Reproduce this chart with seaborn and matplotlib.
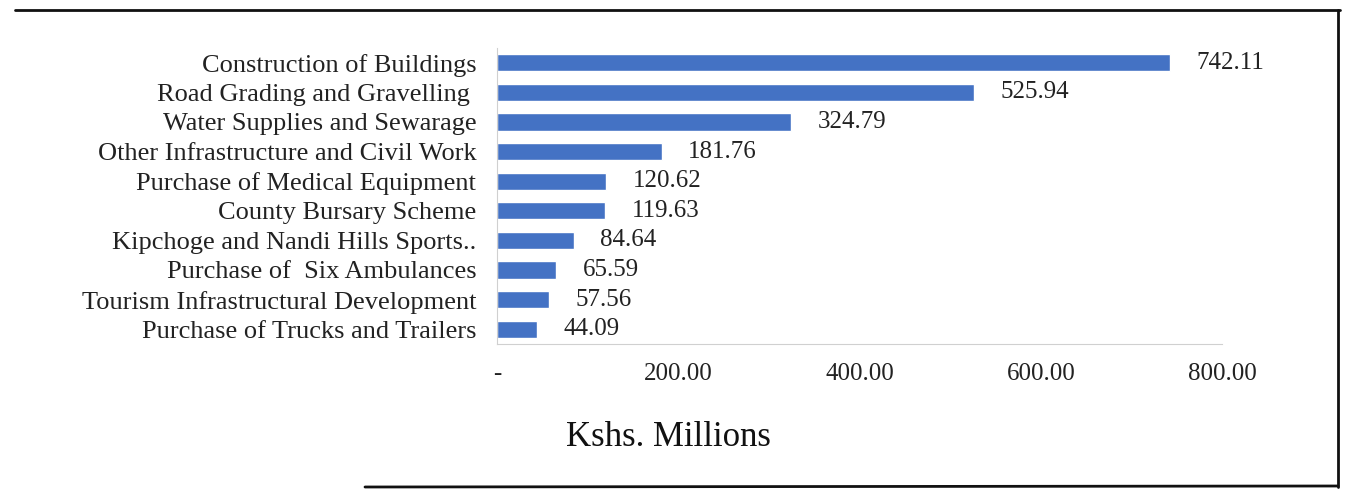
"""Top ten county projects by allocation (Kshs. Millions) - horizontal bar."""
import matplotlib
matplotlib.use("Agg")
import matplotlib.pyplot as plt
from matplotlib.lines import Line2D
import pandas as pd
import seaborn as sns

projects = [
    "Construction of Buildings",
    "Road Grading and Gravelling ",
    "Water Supplies and Sewarage",
    "Other Infrastructure and Civil Work",
    "Purchase of Medical Equipment",
    "County Bursary Scheme",
    "Kipchoge and Nandi Hills Sports..",
    "Purchase of  Six Ambulances",
    "Tourism Infrastructural Development",
    "Purchase of Trucks and Trailers",
]
amounts = [742.11, 525.94, 324.79, 181.76, 120.62, 119.63, 84.64, 65.59, 57.56, 44.09]
x_ticks = [0, 200, 400, 600, 800]
x_tick_labels = ["-", "200.00", "400.00", "600.00", "800.00"]

BAR_COLOR = "#4472C4"

sns.set_theme(style="white")
plt.rcParams["font.family"] = ["Liberation Serif", "DejaVu Serif"]

df = pd.DataFrame({"project": projects, "amount": amounts})

W, H = 1349, 491
fig = plt.figure(figsize=(W / 100, H / 100), dpi=100)
# plot area in pixels: x 497..1222, y 48..344
ax = fig.add_axes([497 / W, 1 - 344 / H, 725 / W, 296 / H])

sns.barplot(data=df, x="amount", y="project", orient="h",
            color=BAR_COLOR, saturation=1, width=0.58, ax=ax)

for i, val in enumerate(amounts):
    ax.annotate(f"{val:.2f}", xy=(val, i), xytext=(19, 0),
                textcoords="offset points", va="center", ha="left",
                fontsize=18, color="#222222")

ax.set_xlim(0, 800)
ax.set_xticks(x_ticks)
ax.set_xticklabels(x_tick_labels)
ax.tick_params(axis="x", length=0, pad=14, labelsize=18, labelcolor="#222222")
ax.tick_params(axis="y", length=0, pad=15, labelsize=19, labelcolor="#222222")
ax.set_ylabel("")
ax.set_xlabel("Kshs. Millions", fontsize=25, color="#111111")
ax.xaxis.set_label_coords((668 - 497) / 725, -(438 - 344) / 296, transform=ax.transAxes)
ax.xaxis.label.set_verticalalignment("center")

for side in ["top", "right"]:
    ax.spines[side].set_visible(False)
for side in ["left", "bottom"]:
    ax.spines[side].set_color("#d0d0d0")
    ax.spines[side].set_linewidth(0.8)

# outer frame of the scanned chart
frame = [
    ((15 / W, 1340 / W), (1 - 10 / H, 1 - 10 / H)),
    ((1338 / W, 1338 / W), (1 - 10 / H, 1 - 487 / H)),
    ((365 / W, 1338 / W), (1 - 487 / H, 1 - 486 / H)),
]
for xs, ys in frame:
    fig.add_artist(Line2D(xs, ys, color="#111111", linewidth=2))

fig.savefig("out.png", dpi=100)
